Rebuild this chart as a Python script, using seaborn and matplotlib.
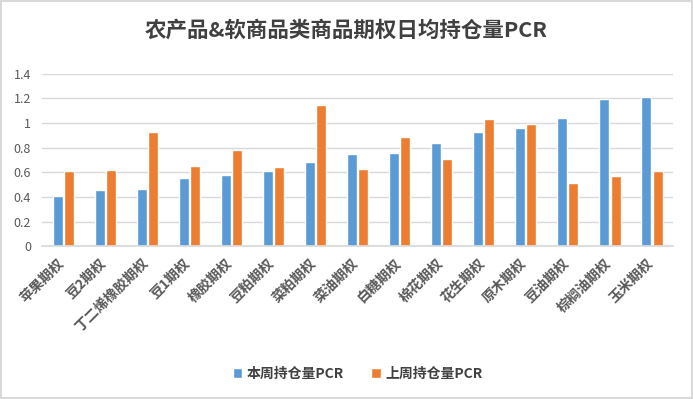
import pandas as pd
import seaborn as sns
import matplotlib.pyplot as plt
from matplotlib.transforms import ScaledTranslation

categories = ['苹果期权', '豆2期权', '丁二烯橡胶期权', '豆1期权', '橡胶期权', '豆粕期权', '菜粕期权',
              '菜油期权', '白糖期权', '棉花期权', '花生期权', '原木期权', '豆油期权', '棕榈油期权', '玉米期权']
this_week = [0.41, 0.455, 0.465, 0.552, 0.575, 0.612, 0.68, 0.752, 0.757, 0.84, 0.93, 0.962, 1.04, 1.195, 1.21]
last_week = [0.607, 0.62, 0.93, 0.65, 0.778, 0.642, 1.15, 0.627, 0.887, 0.705, 1.036, 0.995, 0.51, 0.572, 0.61]
series = ['本周持仓量PCR', '上周持仓量PCR']

df = pd.DataFrame({
    'cat': categories * 2,
    'val': this_week + last_week,
    'series': [series[0]] * len(categories) + [series[1]] * len(categories),
})

sns.set_theme(style='white')
plt.rcParams['font.family'] = ['Noto Sans CJK SC', 'DejaVu Sans']

fig = plt.figure(figsize=(6.93, 3.99), dpi=100)
fig.patch.set_edgecolor('#d9d9d9')
fig.patch.set_linewidth(1.5)
ax = fig.add_axes([0.061, 0.383, 0.91, 0.432])

pal = ['#5b9bd5', '#ed7d31']
sns.barplot(data=df, x='cat', y='val', hue='series', palette=pal, width=0.54, gap=0.12,
            ax=ax, saturation=1)

ax.set_ylim(0, 1.4)
ax.set_yticks([0, 0.2, 0.4, 0.6, 0.8, 1, 1.2, 1.4])
ax.set_yticklabels(['0', '0.2', '0.4', '0.6', '0.8', '1', '1.2', '1.4'])
ax.yaxis.grid(True, color='#d9d9d9', linewidth=1)
ax.set_axisbelow(True)
for s in ['left', 'right', 'top']:
    ax.spines[s].set_visible(False)
ax.spines['bottom'].set_color('#d9d9d9')
ax.tick_params(axis='y', length=0, labelsize=9, labelcolor='#595959', pad=8)
ax.tick_params(axis='x', length=0, pad=7)
ax.set_xlabel('')
ax.set_ylabel('')
ax.set_xlim(-0.5, len(categories) - 0.5)
shift = ScaledTranslation(-6 / 100, 0, fig.dpi_scale_trans)
for lab in ax.get_xticklabels():
    lab.set_rotation(45)
    lab.set_ha('right')
    lab.set_rotation_mode('anchor')
    lab.set_fontsize(10)
    lab.set_fontweight('bold')
    lab.set_color('#595959')
    lab.set_transform(lab.get_transform() + shift)

fig.suptitle('农产品&软商品类商品期权日均持仓量PCR', y=0.95, fontsize=15.5,
             fontweight='bold', color='#404040')

ax.legend(loc='center', bbox_to_anchor=(0.5, -0.74), ncol=2, frameon=False,
          handlelength=0.7, handleheight=0.7, columnspacing=2.0,
          handletextpad=0.3, labelcolor='#404040',
          prop={'weight': 'bold', 'size': 10})

fig.savefig('out.png', dpi=100)
